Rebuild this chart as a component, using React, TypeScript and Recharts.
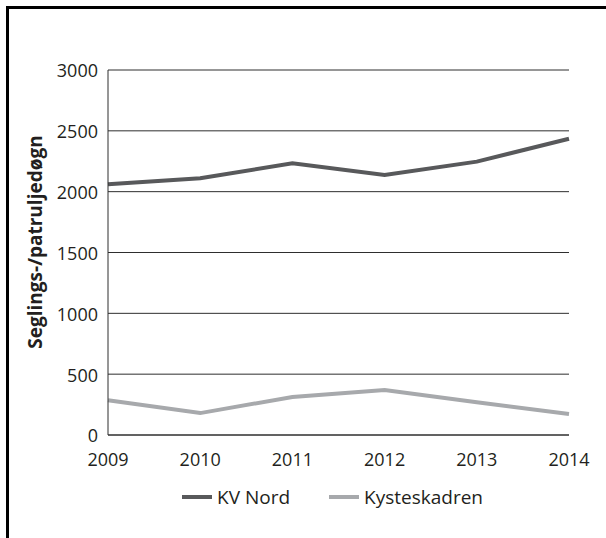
import React from 'react';
import { LineChart, Line, XAxis, YAxis, CartesianGrid, Legend } from 'recharts';

const years = ['2009', '2010', '2011', '2012', '2013', '2014'];
const kvNord = [2060, 2110, 2233, 2138, 2247, 2435];
const kysteskadren = [285, 180, 313, 369, 270, 172];
const yTicks = [0, 500, 1000, 1500, 2000, 2500, 3000];
const seriesNames = ['KV Nord', 'Kysteskadren'];
const seriesColors = ['#58595b', '#a7a9ac'];
const yLabel = 'Seglings-/patruljedøgn';

const data = years.map((y, i) => ({ year: y, kv: kvNord[i], ky: kysteskadren[i] }));

const TEXT = '#231f20';
const FONT = "'Open Sans', sans-serif";

const LegendContent = (props: any) => {
  const payload = props.payload || [];
  return (
    <div style={{ display: 'flex', alignItems: 'center', fontFamily: FONT, fontSize: 19, color: TEXT }}>
      {payload.map((p: any, i: number) => (
        <div key={i} style={{ display: 'flex', alignItems: 'center', marginRight: i === 0 ? 39 : 0 }}>
          <div style={{ width: 30, height: 4, background: p.color, marginRight: 5 }} />
          <span style={{ lineHeight: '24px' }}>{p.value}</span>
        </div>
      ))}
    </div>
  );
};

const YLabel = () => (
  <text
    x={35}
    y={242}
    transform="rotate(-90 35 242)"
    textAnchor="middle"
    dominantBaseline="central"
    fontFamily={FONT}
    fontSize={19}
    fontWeight={700}
    fill={TEXT}
  >
    {yLabel}
  </text>
);

export default function App() {
  return (
    <div style={{ position: 'absolute', left: 0, top: 0, width: 606, height: 538, overflow: 'hidden', background: '#fff', fontFamily: FONT }}>
      <div style={{ position: 'absolute', left: 6, top: 6, width: 700, height: 700, borderLeft: '3px solid #000', borderTop: '3px solid #000' }} />
      <div style={{ position: 'absolute', left: 0, top: 0 }}>
        <LineChart width={606} height={538} data={data} margin={{ top: 70, right: 37, bottom: 73, left: 0 }}>
          <CartesianGrid vertical={false} stroke="#2e2e2e" strokeWidth={1} />
          <XAxis
            dataKey="year"
            scale="point"
            padding={{ left: 0, right: 0 }}
            height={30}
            axisLine={{ stroke: '#2e2e2e' }}
            tickLine={false}
            tickSize={6}
            tickMargin={12}
            tick={{ fill: TEXT, fontSize: 18, fontFamily: FONT }}
            interval={0}
          />
          <YAxis
            width={108}
            domain={[0, 3000]}
            ticks={yTicks}
            axisLine={{ stroke: '#2e2e2e' }}
            tickLine={false}
            tickSize={6}
            tickMargin={4}
            tick={{ fill: TEXT, fontSize: 18, fontFamily: FONT, dy: 1 }}
            interval={0}
            label={<YLabel />}
          />
          <Legend
            verticalAlign="middle"
            align="center"
            layout="horizontal"
            content={<LegendContent />}
            wrapperStyle={{ top: 485, left: 182, width: 400, height: 24 }}
          />
          <Line
            type="linear"
            dataKey="kv"
            name={seriesNames[0]}
            stroke={seriesColors[0]}
            strokeWidth={4}
            dot={false}
            activeDot={false}
            isAnimationActive={false}
          />
          <Line
            type="linear"
            dataKey="ky"
            name={seriesNames[1]}
            stroke={seriesColors[1]}
            strokeWidth={4}
            dot={false}
            activeDot={false}
            isAnimationActive={false}
          />
        </LineChart>
      </div>
    </div>
  );
}
